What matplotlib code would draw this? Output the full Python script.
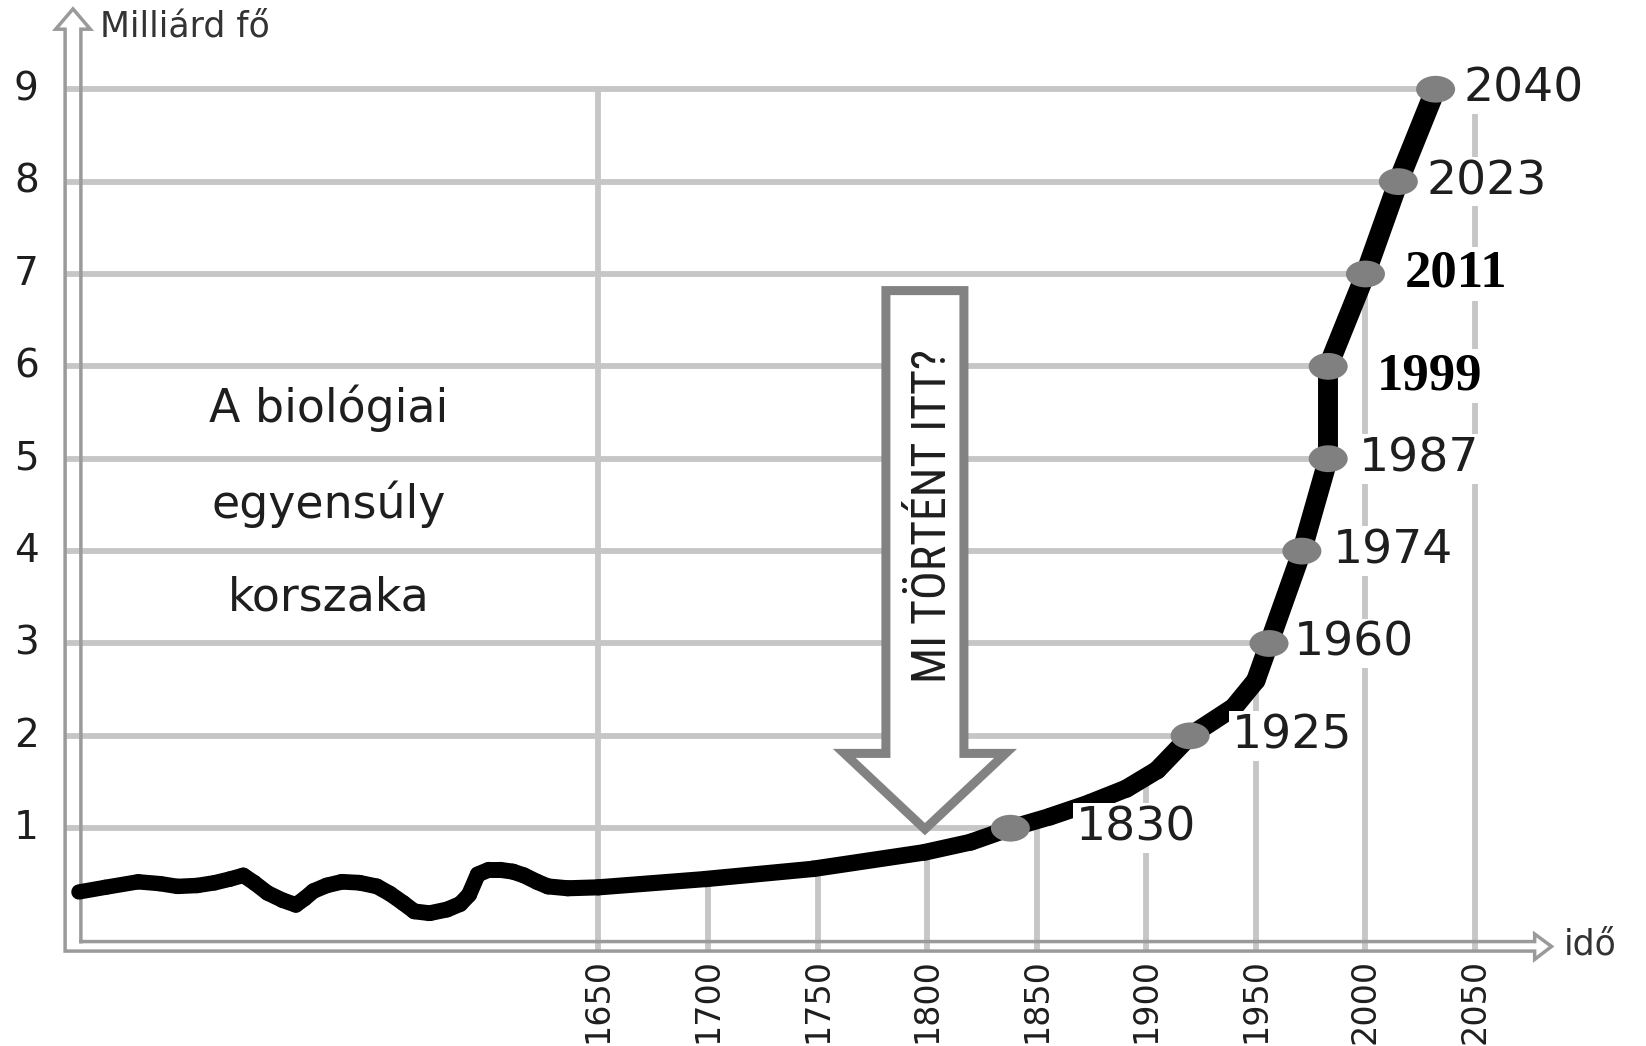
import numpy as np
import matplotlib.pyplot as plt
from matplotlib import font_manager
from matplotlib.patches import Ellipse, Polygon
from matplotlib.collections import LineCollection

# wavy stretch before 1650 (schematic, x is just a position on the axis)
wave_x = [1413, 1425, 1440, 1450, 1458, 1467, 1475, 1482, 1488, 1493, 1499, 1506,
          1512, 1516, 1520, 1526, 1533, 1541, 1549, 1555, 1561, 1566, 1573, 1581,
          1587, 1591, 1595, 1600, 1605, 1611, 1616, 1622, 1627, 1636]
wave_y = [0.31, 0.36, 0.42, 0.40, 0.37, 0.38, 0.41, 0.45, 0.49, 0.41, 0.30, 0.22,
          0.17, 0.24, 0.32, 0.38, 0.42, 0.41, 0.37, 0.29, 0.19, 0.10, 0.08, 0.12,
          0.18, 0.28, 0.50, 0.55, 0.55, 0.53, 0.49, 0.42, 0.37, 0.35]

# slow growth part of the curve
trend_x = [1650, 1699, 1748, 1799, 1820, 1856, 1874, 1891, 1905, 1940, 1950]
trend_y = [0.36, 0.45, 0.56, 0.74, 0.85, 1.125, 1.27, 1.43, 1.63, 2.31, 2.60]

# every new billion (marker position on the drawing, label text)
mile_x = [1838, 1920, 1956, 1971, 1983, 1983, 2000, 2015, 2032]
mile_y = [1, 2, 3, 4, 5, 6, 7, 8, 9]
mile_labels = ['1830', '1925', '1960', '1974', '1987', '1999', '2011', '2023', '2040']

year_ticks = [1650, 1700, 1750, 1800, 1850, 1900, 1950, 2000, 2050]
y_ticks = [1, 2, 3, 4, 5, 6, 7, 8, 9]
era_lines = ['A biológiai', 'egyensúly', 'korszaka']

# label offsets in points from the marker
label_dx = [47, 30, 18, 22, 22, 35, 28, 20, 20]
label_dy = [0, 0, 0, 0, 0, -7, 0, 0, 0]

grid_c = '#c6c6c6'
axis_c = '#9a9a9a'
text_c = '#1e1e1e'

fig = plt.figure(figsize=(16.46, 10.46), dpi=100)
ax = fig.add_axes([0, 0, 1, 1])
ax.set_xlim(1377.0, 2128.0)
ax.set_ylim(-1.3576, 9.966)
ax.axis('off')

# merged curve after 1650
main = sorted(zip(trend_x + mile_x, trend_y + mile_y))
main_x = [p[0] for p in main]
main_y = [p[1] for p in main]

# axis frame: double line with hollow arrow heads
xo, xi = 1406.7, 1413.9
yi, yo = -0.227, -0.33
frame_x = [xi, xi, 1418.2, 1410.3, 1402.4, xo, xo, 2077.2, 2077.2, 2084.9, 2077.2, 2077.2, xi]
frame_y = [yi, 9.65, 9.65, 9.87, 9.65, 9.65, yo, yo, -0.42, -0.28, -0.145, yi, yi]
ax.plot(frame_x, frame_y, color=axis_c, lw=2.5, solid_joinstyle='miter', zorder=2)

# grid lines stop at the curve
for k, xe in zip(mile_y, mile_x):
    ax.plot([xo, xe], [k, k], color=grid_c, lw=4.2, solid_capstyle='butt', zorder=1)
for yr in year_ticks:
    if yr in (1650, 2050):
        top = 9
    else:
        top = np.interp(yr, main_x, main_y)
    ax.plot([yr, yr], [yo, top], color=grid_c, lw=4.2, solid_capstyle='butt', zorder=1)

# hollow arrow "MI TÖRTÉNT ITT?"
cx = 1799
arrow = Polygon([(cx - 17.8, 6.82), (cx + 17.8, 6.82), (cx + 17.8, 1.81), (cx + 36.8, 1.81),
                 (cx, 0.99), (cx - 36.8, 1.81), (cx - 17.8, 1.81)],
                closed=True, fc='white', ec='#828282', lw=6.5, joinstyle='miter', zorder=3)
ax.add_patch(arrow)

# pick a narrow font if there is one
fonts = font_manager.fontManager.ttflist
names = {f.name for f in fonts}
stretch = 'normal'
narrow = 'DejaVu Sans'
for n in ['Liberation Sans Narrow', 'Roboto Condensed', 'Open Sans Condensed', 'DejaVu Sans Condensed']:
    if n in names:
        narrow = n
        break
else:
    if any(f.name == 'DejaVu Sans' and f.stretch == 'condensed' for f in fonts):
        stretch = 'condensed'
q = ax.text(1802.8, 4.375, 'MI TÖRTÉNT ITT?', rotation=90, ha='center', va='center',
            fontsize=36, color=text_c, family=narrow, fontstretch=stretch, zorder=3.5)
fig.canvas.draw()
h = q.get_window_extent().height
q.set_fontsize(36 * 335 / h)

# population curve, getting thicker towards the end
all_x = wave_x + main_x
all_y = wave_y + main_y
pts = np.column_stack([all_x, all_y])
segs = np.stack([pts[:-1], pts[1:]], axis=1)
mid = (pts[:-1, 0] + pts[1:, 0]) / 2
lws = np.interp(mid, [1413, 1800, 1920, 2032], [11, 12, 13.5, 15])
lc = LineCollection(segs, colors='black', linewidths=lws, capstyle='round',
                    joinstyle='round', zorder=4)
ax.add_collection(lc)

for x, y in zip(mile_x, mile_y):
    ax.add_patch(Ellipse((x, y), 17.8, 0.29, fc='#808080', ec='none', zorder=5))

for x, y, lab, dx, dy in zip(mile_x, mile_y, mile_labels, label_dx, label_dy):
    serif = lab in ('1999', '2011')
    ax.annotate(lab, (x, y), xytext=(dx, dy), textcoords='offset points',
                ha='left', va='center',
                fontsize=38 if serif else 34,
                family='Liberation Serif' if serif else 'DejaVu Sans',
                weight='bold' if serif else 'normal',
                color='black' if serif else text_c,
                bbox=dict(boxstyle='square,pad=0.05', fc='white', ec='none'), zorder=6)

# tick labels
for v in y_ticks:
    ax.text(1389, v, str(v), ha='center', va='center', fontsize=28, color=text_c)
for yr in year_ticks:
    ax.text(yr, -0.41, str(yr), rotation=90, ha='center', va='top', fontsize=24, color=text_c)

ax.text(1422.5, 9.68, 'Milliárd fő', ha='left', va='center', fontsize=25, color='#333333')
ax.text(2090.6, -0.26, 'idő', ha='left', va='center', fontsize=25, color='#333333')

for s, v in zip(era_lines, [5.545, 4.51, 3.49]):
    ax.text(1527, v, s, ha='center', va='center', fontsize=33, color=text_c)

fig.savefig('out.png', dpi=100)
